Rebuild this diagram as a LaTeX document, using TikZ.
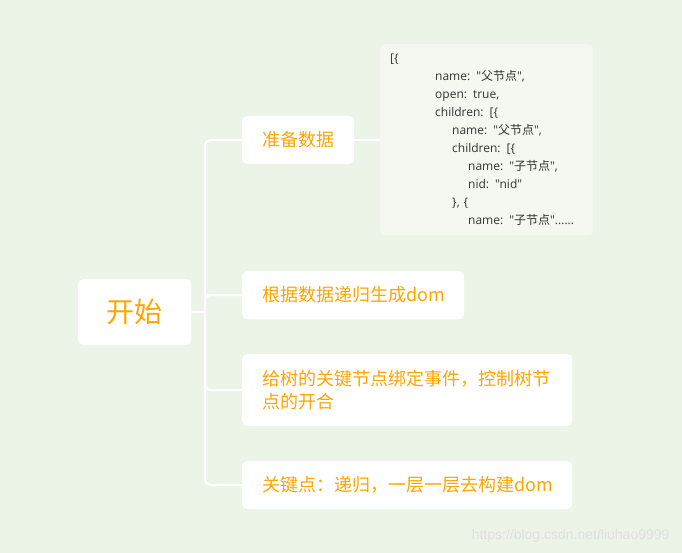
\documentclass[tikz,border=0pt]{standalone}
\usepackage{fontspec}
\setmainfont{Noto Sans CJK SC}
\newfontfamily\cjk{Noto Sans CJK SC}
\newfontfamily\codefont{Open Sans}
\newfontfamily\markfont{Liberation Sans}
\usetikzlibrary{positioning}
\definecolor{paper}{HTML}{ECF4E7}
\definecolor{codepaper}{HTML}{F4F8F0}
\definecolor{topictext}{HTML}{FFA500}
\definecolor{codetext}{HTML}{333333}
\def\indentA{\hspace*{45pt}}
\def\indentB{\hspace*{62pt}}
\def\indentC{\hspace*{78pt}}
\def\qt#1{"{\cjk #1}"}
\tikzset{rootbox/.style={fill=white, rounded corners=5pt, minimum width=113pt, minimum height=66pt,
        text=topictext, font=\fontsize{28}{32}\selectfont},
    topicbox/.style={fill=white, rounded corners=5pt, anchor=west, inner xsep=20pt, minimum height=48pt,
        text=topictext, font=\fontsize{18}{23}\selectfont, align=left},
    codebox/.style={fill=codepaper, rounded corners=5pt, anchor=north west, inner xsep=10pt,
        minimum width=213pt, minimum height=191pt, text width=193pt, align=left,
        text=codetext, font=\codefont\fontsize{12}{17.9}\selectfont},
    branch/.style={draw=white, line width=2pt, rounded corners=6pt}}

\begin{document}
\begin{tikzpicture}[x=1pt, y=-1pt]
    \fill[paper] (0,0) rectangle (682,553);
    \useasboundingbox (0,0) rectangle (682,553);
    \node[rootbox] (start) at (134.5,312) {开始};
    \coordinate (hub) at (205,312);
    \node[topicbox, text width=72pt] (prepare) at (242,140) {准备数据};
    \node[topicbox, text width=182pt] (render) at (242,295) {根据数据递归生成dom};
    \node[topicbox, text width=290pt, minimum height=72pt] (bind) at (242,390)
        {给树的关键节点绑定事件，控制树节\\点的开合};
    \node[topicbox, text width=290pt] (key) at (242,485) {关键点：递归，一层一层去构建dom};
    \node[codebox] (sample) at (380,44) {[\{\\
        \indentA name: \qt{父节点},\\
        \indentA open: true,\\
        \indentA children: [\{\\
        \indentB name: \qt{父节点},\\
        \indentB children: [\{\\
        \indentC \mbox{name: \qt{子节点},}\\
        \indentC nid: "nid"\\
        \indentB \}, \{\\
        \indentC \mbox{name: \qt{子节点}......}};
    \draw[branch] (start.east) -- (hub);
    \draw[branch] (prepare.west) -| (hub);
    \draw[branch] (render.west) -| (hub);
    \draw[branch] (bind.west) -| (hub);
    \draw[branch] (key.west) -| (hub);
    \draw[branch] (prepare.east) -- (prepare.east -| sample.west);
    \node[anchor=east, text=gray!25, font=\markfont\fontsize{14}{16}\selectfont] (mark) at (673,536)
        {https://blog.csdn.net/liuhao9999};
\end{tikzpicture}
\end{document}
